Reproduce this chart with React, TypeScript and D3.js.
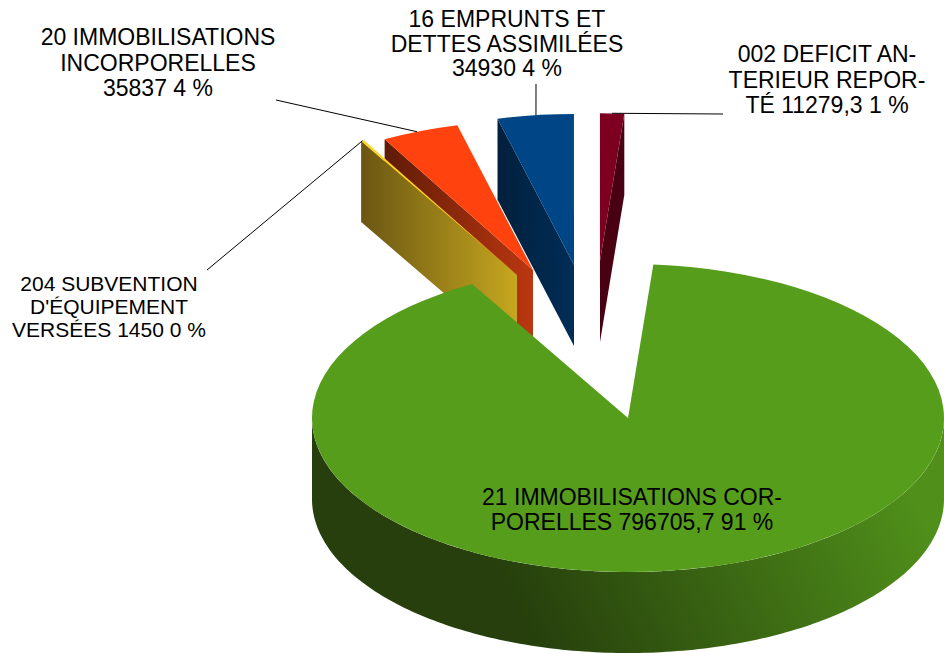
import React from 'react';
import * as d3 from 'd3';

const names = ['21 IMMOBILISATIONS CORPORELLES', '204 SUBVENTION', '20 IMMOBILISATIONS', '16 EMPRUNTS', '002 DEFICIT'];
const values = [796705.7, 1450, 35837, 34930, 11279.3];
const topColors = ['#579d1c', '#ffd320', '#ff420e', '#004586', '#7e0021'];
const sideDark = ['#263f0c', '#6b5613', '#5f1b07', '#01203c', '#4a0013'];
const sideLight = ['#4f8f1a', '#c6a71f', '#bb3710', '#012d57', '#4a0013'];

// label lines, wrapped the way the chart wraps them
const labelLines = [
	['21 IMMOBILISATIONS COR-', 'PORELLES 796705,7 91 %'],
	['204 SUBVENTION', "D'ÉQUIPEMENT", 'VERSÉES 1450 0 %'],
	['20 IMMOBILISATIONS', 'INCORPORELLES', '35837 4 %'],
	['16 EMPRUNTS ET', 'DETTES ASSIMILÉES', '34930 4 %'],
	['002 DEFICIT AN-', 'TERIEUR REPOR-', 'TÉ 11279,3 1 %'],
];

// layout
const width = 944;
const height = 653;
const cx = 628;
const cy = 418;
const rx = 316;
const ry = 154;
const depth = 81;
const startDeg = 4.6;
const explodeScale = [1, 1, 0.97, 0.98, 0.96];
const offsets = [[0, 0], [-111, -143], [-95, -148], [-54, -153], [-28, -157]];
const labelPos = [[632, 505], [109, 291], [158, 45], [507, 27], [827, 62]];
const labelSize = [23, 21, 23, 23, 23];
const lineGap = [25, 23, 25.5, 24.5, 25.5];
const leaderFrom = [null, [207, 270], [276, 100], [536, 84], [723, 114]];
const leaderAngleShift = [0, 0, -0.6, 0.1, 0]; // degrees off the slice middle
const drawOrder = [3, 4, 2, 1, 0];

const rad = (d: number) => (d * Math.PI) / 180;
const pie = d3.pie<number>().sort(null).startAngle(rad(startDeg)).endAngle(rad(startDeg + 360));
const slices = pie(values);
const unitArc = d3.arc<any>().innerRadius(0).outerRadius(100);
const line = d3.line();

function project(i: number, angle: number, r = 1, down = 0): [number, number] {
	const k = explodeScale[i] * r;
	return [
		cx + offsets[i][0] + rx * k * Math.sin(angle),
		cy + offsets[i][1] - ry * k * Math.cos(angle) + down,
	];
}

// parallelogram under one radial edge of a slice
function radialFace(i: number, angle: number) {
	return line([project(i, angle, 0), project(i, angle, 1), project(i, angle, 1, depth), project(i, angle, 0, depth)]) + 'Z';
}

// curved outer wall, only the part that faces the viewer
function outerWall(i: number, a0: number, a1: number) {
	const from = Math.max(a0, Math.PI / 2);
	const to = Math.min(a1, (3 * Math.PI) / 2);
	if (to <= from) return null;
	const angles = d3.range(from, to, rad(1)).concat(to);
	const upper = angles.map(a => project(i, a));
	const lower = angles.slice().reverse().map(a => project(i, a, 1, depth));
	return line(upper.concat(lower)) + 'Z';
}

function Slice({ i }: { i: number }) {
	const s = slices[i];
	const startEdge = Math.sin(s.startAngle) < 0;
	const endEdge = Math.sin(s.endAngle) > 0;
	const wall = outerWall(i, s.startAngle, s.endAngle);
	const tx = cx + offsets[i][0];
	const ty = cy + offsets[i][1];
	const fill = `url(#side${i})`;
	return (
		<g>
			{wall && <path d={wall} fill={fill} />}
			{startEdge && i > 0 && <path d={radialFace(i, s.startAngle)} fill={fill} />}
			{endEdge && i > 0 && <path d={radialFace(i, s.endAngle)} fill={fill} />}
			<path
				d={unitArc(s) as string}
				fill={topColors[i]}
				transform={`translate(${tx},${ty}) scale(${(rx * explodeScale[i]) / 100},${(ry * explodeScale[i]) / 100})`}
			/>
		</g>
	);
}

function sideGradient(i: number) {
	if (i === 0) return { x1: 530, y1: 640, x2: 900, y2: 470 };
	const s = slices[i];
	const a = project(i, s.startAngle);
	const b = project(i, s.startAngle, 0);
	return { x1: a[0], y1: 0, x2: Math.max(b[0], project(i, s.endAngle)[0]), y2: 0 };
}

export default function App() {
	return (
		<svg
			width={width}
			height={height}
			style={{ position: 'fixed', left: 0, top: 0, display: 'block', background: '#fff' }}
			fontFamily="'Liberation Sans', Arial, sans-serif"
		>
			<defs>
				{names.map((_, i) => (
					<linearGradient key={i} id={`side${i}`} gradientUnits="userSpaceOnUse" {...sideGradient(i)}>
						<stop offset="0" stopColor={sideDark[i]} />
						<stop offset="1" stopColor={sideLight[i]} />
					</linearGradient>
				))}
			</defs>
			{drawOrder.map(i => <Slice key={i} i={i} />)}
			{slices.map((s, i) => {
				const from = leaderFrom[i];
				if (!from) return null;
				const to = project(i, (s.startAngle + s.endAngle) / 2 + rad(leaderAngleShift[i]));
				return <line key={i} x1={from[0]} y1={from[1]} x2={to[0]} y2={to[1]} stroke="#000" strokeWidth={1} />;
			})}
			{labelLines.map((lines, i) => (
				<text key={i} textAnchor="middle" fill="#000" fontSize={labelSize[i]}>
					{lines.map((t, j) => (
						<tspan key={j} x={labelPos[i][0]} y={labelPos[i][1] + j * lineGap[i]}>{t}</tspan>
					))}
				</text>
			))}
		</svg>
	);
}
